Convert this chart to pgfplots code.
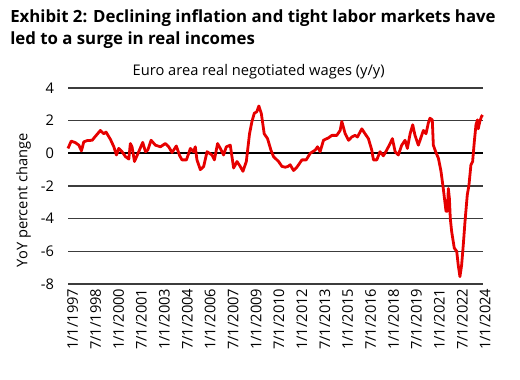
\documentclass[border=0pt]{standalone}
\usepackage{pgfplots}
\pgfplotsset{compat=1.18}
\usepackage{fontspec}
\setmainfont{Open Sans}
\definecolor{ubsred}{RGB}{230,0,0}
\definecolor{gridc}{RGB}{60,60,60}
\begin{document}
\begin{tikzpicture}
\useasboundingbox (0,0) rectangle (390pt,284.25pt);
\node[anchor=base west,inner sep=0pt,font=\fontsize{12.6}{15}\selectfont\bfseries] at (7.5pt,267pt) {Exhibit 2: Declining inflation and tight labor markets have};
\node[anchor=base west,inner sep=0pt,font=\fontsize{12.6}{15}\selectfont\bfseries] at (7.5pt,250.5pt) {led to a surge in real incomes};
\node[anchor=base,inner sep=0pt,font=\fontsize{11}{13}\selectfont] at (194pt,227.25pt) {Euro area real negotiated wages (y/y)};
\node[rotate=90,anchor=base,inner sep=0pt,font=\fontsize{11}{13}\selectfont] at (20.5pt,134pt) {YoY percent change};
\begin{axis}[
  scale only axis,
  at={(51pt,71.25pt)}, anchor=south west,
  width=311.25pt, height=147pt,
  xmin=1997, xmax=2024.16,
  ymin=-8, ymax=4,
  ytick={-8,-6,-4,-2,0,2,4},
  xtick={1997,1998.5,2000,2001.5,2003,2004.5,2006,2007.5,2009,2010.5,2012,2013.5,2015,2016.5,2018,2019.5,2021,2022.5,2024},
  xticklabels={1/1/1997,7/1/1998,1/1/2000,7/1/2001,1/1/2003,7/1/2004,1/1/2006,7/1/2007,1/1/2009,7/1/2010,1/1/2012,7/1/2013,1/1/2015,7/1/2016,1/1/2018,7/1/2019,1/1/2021,7/1/2022,1/1/2024},
  axis line style={draw=none},
  major tick length=0pt,
  ymajorgrids,
  grid style={gridc, line width=0.8pt},
  /pgf/number format/assume math mode=true,
  tick label style={font=\fontsize{11}{13}\selectfont},
  yticklabel style={xshift=-7pt},
  xticklabel style={rotate=90, anchor=east, yshift=-3.5pt},
  clip=false,
]
\addplot[black, line width=1.5pt, forget plot] coordinates {(1997,0) (2024.16,0)};
\addplot[ubsred, line width=2.1pt, line join=round] coordinates {
(1997.0,0.3) (1997.21,0.75) (1997.49,0.65) (1997.71,0.5) (1997.88,0.15)
(1998.03,0.7) (1998.25,0.78) (1998.58,0.8) (1998.80,1.05) (1999.12,1.4)
(1999.34,1.2) (1999.49,1.3) (1999.78,0.85) (2000.0,0.4) (2000.17,-0.1)
(2000.32,0.3) (2000.54,0.1) (2000.76,-0.2) (2000.98,-0.35) (2001.08,0.6)
(2001.19,0.4) (2001.35,-0.5) (2001.63,0.1) (2001.89,0.67) (2002.07,0.1)
(2002.22,0.2) (2002.44,0.8) (2002.72,0.5) (2003.05,0.4) (2003.37,0.6)
(2003.59,0.4) (2003.81,0.05) (2004.09,0.45) (2004.31,-0.15) (2004.46,-0.4)
(2004.75,-0.4) (2005.01,0.3) (2005.22,0.1) (2005.33,0.4) (2005.44,-0.4)
(2005.66,-1.0) (2005.88,-0.8) (2006.10,0.1) (2006.42,-0.1) (2006.58,-0.4)
(2006.79,0.6) (2006.97,0.3) (2007.18,-0.1) (2007.36,0.4) (2007.62,0.5)
(2007.84,-0.9) (2008.06,-0.5) (2008.27,-0.8) (2008.45,-1.1) (2008.67,-0.5)
(2008.88,1.2) (2009.04,1.95) (2009.19,2.45) (2009.36,2.55) (2009.49,2.9)
(2009.65,2.45) (2009.84,1.2) (2010.06,0.9) (2010.28,0.2) (2010.45,-0.2)
(2010.78,-0.5) (2011.0,-0.8) (2011.22,-0.85) (2011.40,-0.8) (2011.54,-0.7)
(2011.76,-1.05) (2011.98,-0.85) (2012.31,-0.4) (2012.59,-0.4) (2012.85,0.0)
(2013.18,0.2) (2013.33,0.4) (2013.50,0.1) (2013.72,0.8) (2014.05,0.95)
(2014.27,1.1) (2014.59,1.1) (2014.81,1.4) (2014.92,1.95) (2015.14,1.2)
(2015.36,0.8) (2015.57,1.0) (2015.79,1.1) (2015.94,1.0) (2016.23,1.5)
(2016.44,1.2) (2016.66,0.9) (2016.88,0.2) (2016.99,-0.4) (2017.21,-0.4)
(2017.42,0.1) (2017.64,-0.15) (2017.86,0.2) (2018.08,0.6) (2018.23,0.9)
(2018.41,0.1) (2018.62,-0.1) (2018.84,0.5) (2019.06,0.8) (2019.21,0.3)
(2019.39,1.2) (2019.56,1.75) (2019.71,1.1) (2019.93,0.5) (2020.11,1.0)
(2020.26,1.4) (2020.43,1.2) (2020.58,1.85) (2020.69,2.15) (2020.84,2.05)
(2020.91,0.5) (2021.06,0.1) (2021.24,-0.3) (2021.41,-1.1) (2021.56,-2.15)
(2021.74,-3.55) (2021.83,-3.55) (2021.89,-2.15) (2021.96,-2.75) (2022.02,-4.0)
(2022.11,-4.8) (2022.28,-5.8) (2022.44,-6.0) (2022.54,-6.85) (2022.65,-7.55)
(2022.76,-6.85) (2022.87,-5.6) (2022.98,-4.2) (2023.13,-2.55) (2023.24,-1.95)
(2023.37,-0.7) (2023.48,-0.5) (2023.59,0.7) (2023.70,1.75) (2023.80,2.05)
(2023.85,1.5) (2023.95,1.95) (2024.06,2.25) (2024.13,2.35)
};
\end{axis}
\end{tikzpicture}
\end{document}
